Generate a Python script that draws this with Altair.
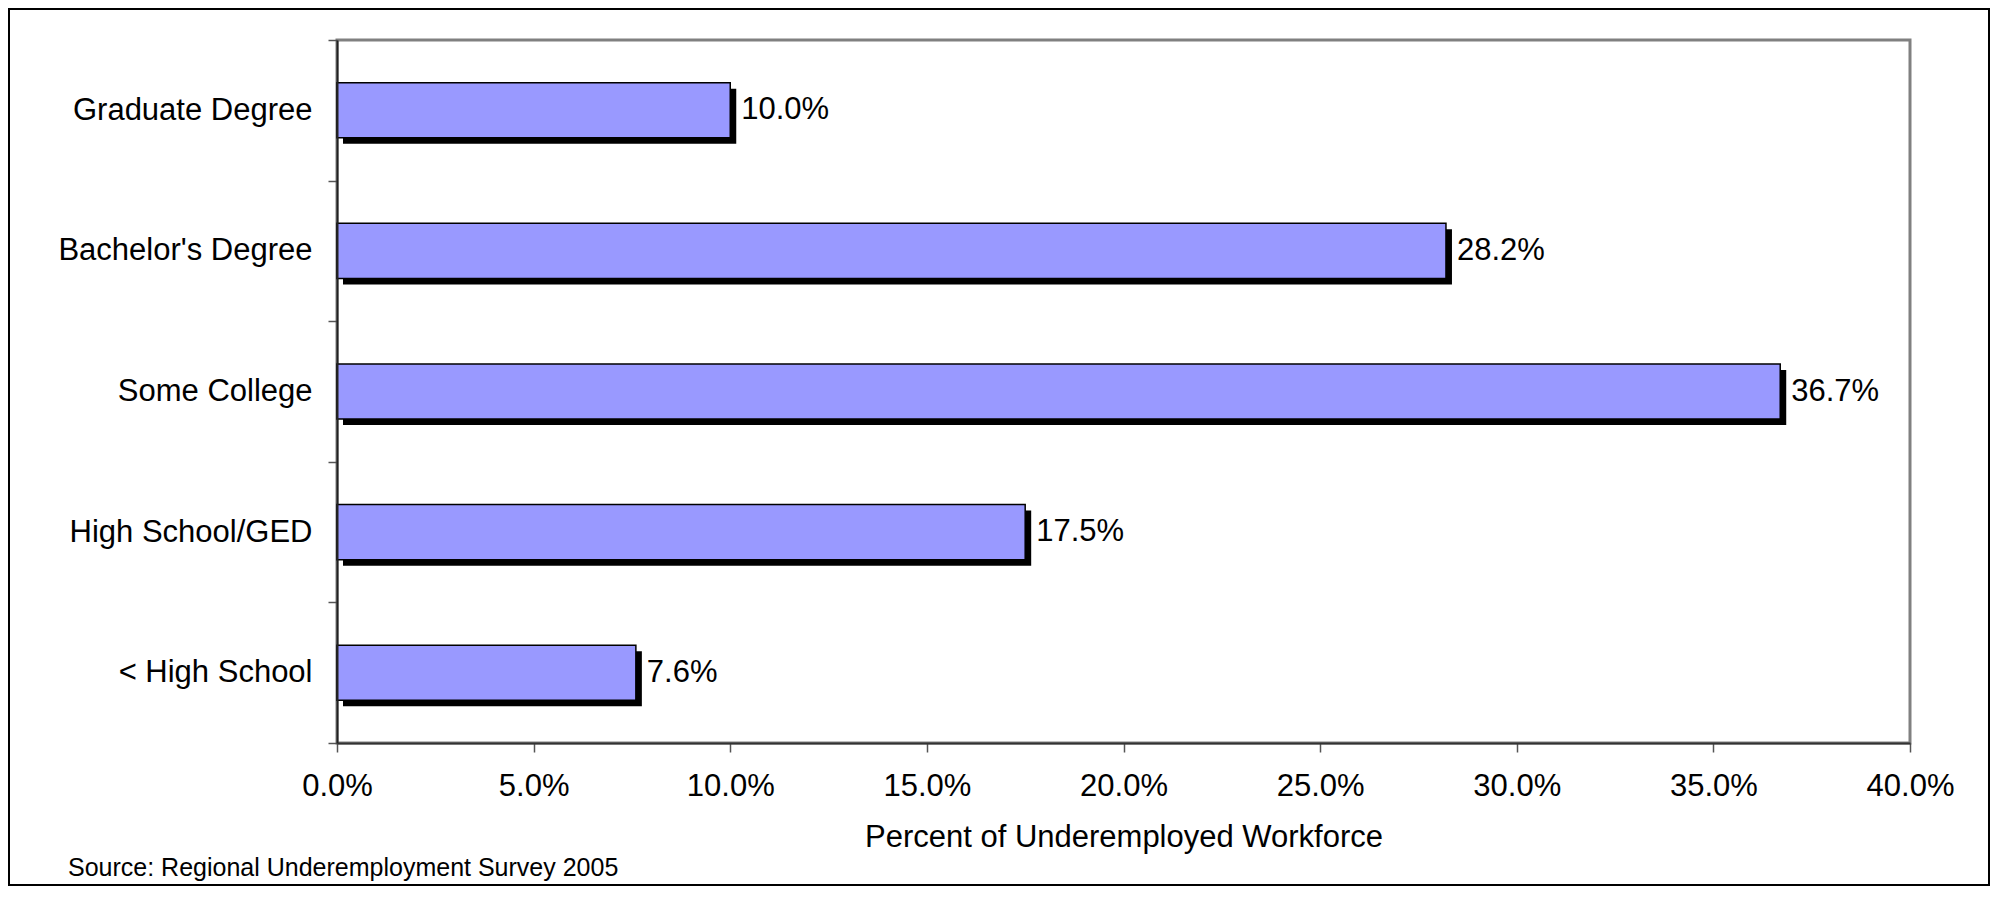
import altair as alt
import pandas as pd

# ---- data ----
categories = ["Graduate Degree", "Bachelor's Degree", "Some College", "High School/GED", "< High School"]
values = [0.100, 0.282, 0.367, 0.175, 0.076]
x_ticks = [0.0, 0.05, 0.10, 0.15, 0.20, 0.25, 0.30, 0.35, 0.40]
x_title = "Percent of Underemployed Workforce"
source_note = "Source: Regional Underemployment Survey 2005"

df = pd.DataFrame({"category": categories, "value": values})
note_df = pd.DataFrame({"note": [source_note]})

FONT = "Liberation Sans"
FS = 31
W, H = 1573, 703
BAR_BAND = 0.392

y_enc = alt.Y(
    "category:N",
    sort=categories,
    scale=alt.Scale(paddingInner=0, paddingOuter=0),
    axis=alt.Axis(
        title=None,
        tickBand="extent",
        labelFont=FONT,
        labelFontSize=FS,
        labelColor="black",
        labelPadding=16,
        labelLimit=0,
        tickSize=9,
        tickColor="#555555",
        tickWidth=1.5,
        domainColor="#222222",
        domainWidth=2,
        zindex=1,
    ),
)
x_enc = alt.X(
    "value:Q",
    scale=alt.Scale(domain=[0, 0.4], nice=False, zero=True),
    axis=alt.Axis(
        values=x_ticks,
        format=".1%",
        title=x_title,
        grid=False,
        labelFont=FONT,
        labelFontSize=FS,
        labelColor="black",
        labelPadding=19,
        labelFlush=False,
        labelOverlap=False,
        tickSize=9,
        tickColor="#555555",
        tickWidth=1.5,
        domainColor="#333333",
        domainWidth=2,
        titleFont=FONT,
        titleFontSize=FS,
        titleFontWeight="normal",
        titleColor="black",
        titlePadding=21,
        zindex=1,
    ),
)

base = alt.Chart(df)

shadow = base.mark_bar(
    color="black", xOffset=6, yOffset=6, height=alt.RelativeBandSize(BAR_BAND)
).encode(x=x_enc, y=y_enc)

bars = base.mark_bar(
    fill="#9999FF", stroke="black", strokeWidth=1.5, height=alt.RelativeBandSize(BAR_BAND)
).encode(x=x_enc, y=y_enc)

labels = base.mark_text(
    align="left", baseline="middle", dx=11, font=FONT, fontSize=FS, color="black"
).encode(x=x_enc, y=y_enc, text=alt.Text("value:Q", format=".1%"))

frame = alt.Chart(note_df).mark_rect(
    fill=None, stroke="black", strokeWidth=2
).encode(
    x=alt.value(-328), x2=alt.value(1652), y=alt.value(-31), y2=alt.value(845)
)

note = alt.Chart(note_df).mark_text(
    align="left", baseline="alphabetic", font=FONT, fontSize=25, color="black"
).encode(x=alt.value(-269), y=alt.value(836), text="note:N")

chart = alt.layer(frame, shadow, bars, labels, note).properties(
    width=W,
    height=H,
    autosize=alt.AutoSizeParams(type="none"),
    padding={"left": 329, "top": 32, "right": 80, "bottom": 143},
    background="white",
).configure_view(stroke="#808080", strokeWidth=3)

chart.save("out.html", embed_options={"renderer": "svg", "actions": False})
